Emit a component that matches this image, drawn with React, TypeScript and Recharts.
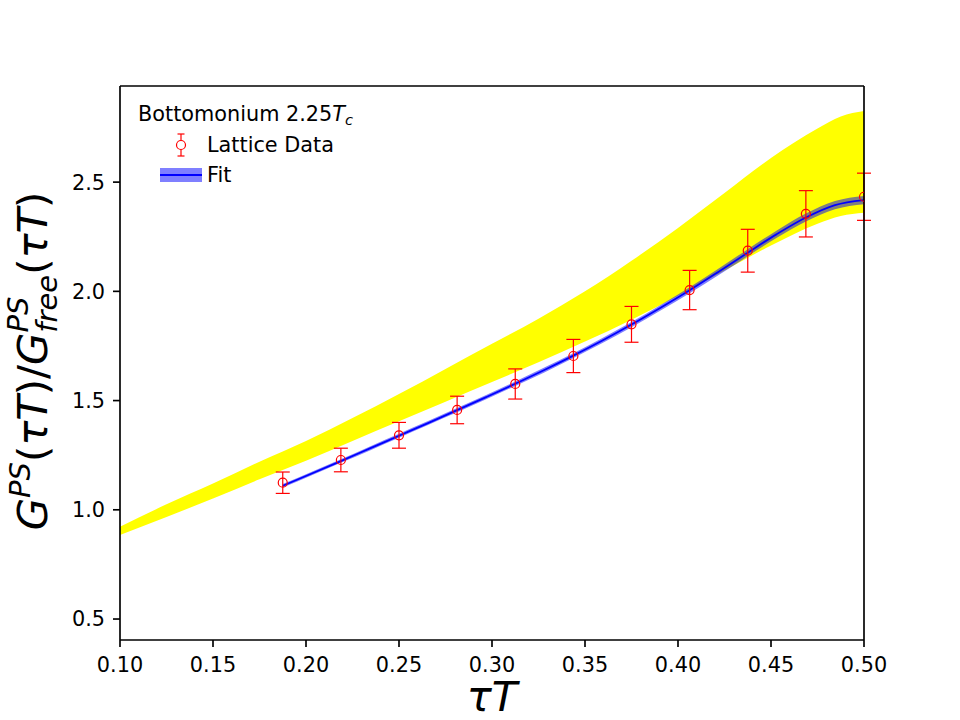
import React from 'react';
import { ComposedChart, Area, Line, Scatter, XAxis, YAxis, ErrorBar, ReferenceLine } from 'recharts';

// Lattice correlator ratio at tau*T = n/32
const latticeTau = [0.1875, 0.21875, 0.25, 0.28125, 0.3125, 0.34375, 0.375, 0.40625, 0.4375, 0.46875, 0.5];
const latticeRatio = [1.124, 1.228, 1.341, 1.457, 1.576, 1.704, 1.849, 2.006, 2.186, 2.355, 2.433];
const latticeError = [0.049, 0.054, 0.059, 0.063, 0.069, 0.076, 0.082, 0.09, 0.098, 0.106, 0.108];

// Fitted ratio (central curve and half-width of its uncertainty band)
const fitTau = [
  0.1875, 0.203125, 0.21875, 0.234375, 0.25, 0.265625, 0.28125, 0.296875, 0.3125, 0.328125, 0.34375,
  0.359375, 0.375, 0.390625, 0.40625, 0.421875, 0.4375, 0.453125, 0.46875, 0.484375, 0.5,
];
const fitCentral = [
  1.11, 1.166, 1.223, 1.281, 1.339, 1.397, 1.456, 1.516, 1.577, 1.64, 1.706,
  1.775, 1.848, 1.925, 2.005, 2.09, 2.177, 2.262, 2.338, 2.395, 2.418,
];
const fitHalfWidth = [
  0.008, 0.008, 0.008, 0.009, 0.009, 0.009, 0.01, 0.01, 0.01, 0.011, 0.011,
  0.012, 0.012, 0.013, 0.014, 0.015, 0.016, 0.017, 0.018, 0.019, 0.019,
];

// Model band (yellow)
const bandTau = [0.1, 0.125, 0.15, 0.175, 0.2, 0.225, 0.25, 0.275, 0.3, 0.325, 0.35, 0.375, 0.4, 0.425, 0.45, 0.475, 0.4875, 0.5];
const bandLower = [0.885, 0.967, 1.052, 1.14, 1.225, 1.315, 1.405, 1.495, 1.585, 1.675, 1.77, 1.87, 1.98, 2.095, 2.21, 2.31, 2.345, 2.36];
const bandUpper = [0.922, 1.025, 1.12, 1.22, 1.315, 1.42, 1.53, 1.645, 1.76, 1.875, 2.0, 2.14, 2.29, 2.45, 2.61, 2.745, 2.8, 2.825];

const xTicks = [0.1, 0.15, 0.2, 0.25, 0.3, 0.35, 0.4, 0.45, 0.5];
const yTicks = [0.5, 1.0, 1.5, 2.0, 2.5];
const xDomain: [number, number] = [0.1, 0.5];
const yDomain: [number, number] = [0.404, 2.94];

const bandRows = bandTau.map((x, i) => ({ x, range: [bandLower[i], bandUpper[i]] }));
const fitRows = fitTau.map((x, i) => ({
  x,
  y: fitCentral[i],
  range: [fitCentral[i] - fitHalfWidth[i], fitCentral[i] + fitHalfWidth[i]],
}));
const latticeRows = latticeTau.map((x, i) => ({ x, y: latticeRatio[i], err: latticeError[i] }));

const FONT = 'DejaVu Sans';
const TICK_FONT = 20.8;
const LABEL_FONT = 41.7;
const SPINE = 1.67;

const OpenCircle = (props: any) => {
  const { cx, cy } = props;
  if (cx == null || cy == null) return null;
  return <circle cx={cx} cy={cy} r={4.5} fill="none" stroke="#ff0000" strokeWidth={1.2} />;
};

const AxisLabels = () => (
  <g fontFamily={FONT} fill="#000">
    <text x={492} y={711} textAnchor="middle" fontSize={LABEL_FONT} fontStyle="italic">τT</text>
    <text transform="translate(47,361) rotate(-90)" x={0} y={0} textAnchor="middle" fontSize={LABEL_FONT}>
      <tspan fontStyle="italic">G</tspan>
      <tspan fontStyle="italic" fontSize={29} dy={-17}>PS</tspan>
      <tspan dy={17}>(</tspan>
      <tspan fontStyle="italic">τT</tspan>
      <tspan>)/</tspan>
      <tspan fontStyle="italic">G</tspan>
      <tspan fontStyle="italic" fontSize={29} dy={-19}>PS</tspan>
      <tspan fontStyle="italic" fontSize={29} dx={-36} dy={29}>free</tspan>
      <tspan dy={-10}>(</tspan>
      <tspan fontStyle="italic">τT</tspan>
      <tspan>)</tspan>
    </text>
  </g>
);

const LegendBox = () => (
  <g fontFamily={FONT} fontSize={TICK_FONT} fill="#000">
    <text x={138} y={121}>
      Bottomonium 2.25<tspan fontStyle="italic">T</tspan>
      <tspan fontStyle="italic" fontSize={14.6} dy={4}>c</tspan>
    </text>
    <line x1={181} x2={181} y1={134} y2={156} stroke="#ff0000" strokeWidth={1.2} />
    <line x1={177.5} x2={184.5} y1={134} y2={134} stroke="#ff0000" strokeWidth={1.2} />
    <line x1={177.5} x2={184.5} y1={156} y2={156} stroke="#ff0000" strokeWidth={1.2} />
    <circle cx={181} cy={145} r={4.5} fill="#fff" stroke="#ff0000" strokeWidth={1.2} />
    <text x={207} y={152}>Lattice Data</text>
    <rect x={160} y={168} width={42} height={14} fill="#0000ff" fillOpacity={0.5} />
    <line x1={160} x2={202} y1={175} y2={175} stroke="#0000ff" strokeWidth={1.8} />
    <text x={207} y={182}>Fit</text>
  </g>
);

export default function App() {
  return (
    <div style={{ position: 'absolute', left: 0, top: 0, background: '#fff' }}>
      <ComposedChart width={960} height={720} margin={{ top: 86, right: 96, bottom: 20, left: 60 }}>
        <Area
          data={bandRows}
          dataKey="range"
          type="monotone"
          stroke="none"
          fill="#ffff00"
          fillOpacity={1}
          isAnimationActive={false}
        />
        <Area
          data={fitRows}
          dataKey="range"
          type="monotone"
          stroke="none"
          fill="#0000ff"
          fillOpacity={0.5}
          isAnimationActive={false}
        />
        <Line
          data={fitRows}
          dataKey="y"
          type="monotone"
          stroke="#0000ff"
          strokeWidth={1.8}
          dot={false}
          isAnimationActive={false}
        />
        <Scatter data={latticeRows} dataKey="y" shape={OpenCircle} isAnimationActive={false}>
          <ErrorBar dataKey="err" direction="y" width={7} stroke="#ff0000" strokeWidth={1.2} />
        </Scatter>
        <XAxis
          dataKey="x"
          type="number"
          domain={xDomain}
          ticks={xTicks}
          allowDataOverflow
          tickFormatter={(v: number) => v.toFixed(2)}
          height={60}
          tickSize={7}
          tickMargin={10}
          tick={{ fill: '#000', fontSize: TICK_FONT, fontFamily: FONT }}
          tickLine={{ stroke: '#000', strokeWidth: SPINE }}
          axisLine={{ stroke: '#000', strokeWidth: SPINE }}
        />
        <YAxis
          dataKey="y"
          type="number"
          domain={yDomain}
          ticks={yTicks}
          allowDataOverflow
          tickFormatter={(v: number) => v.toFixed(1)}
          width={60}
          tickSize={7}
          tickMargin={8}
          tick={{ fill: '#000', fontSize: TICK_FONT, fontFamily: FONT }}
          tickLine={{ stroke: '#000', strokeWidth: SPINE }}
          axisLine={{ stroke: '#000', strokeWidth: SPINE }}
        />
        {/* top and right frame of the axes box */}
        <ReferenceLine y={yDomain[1]} stroke="#000" strokeWidth={SPINE} ifOverflow="visible" />
        <ReferenceLine x={xDomain[1]} stroke="#000" strokeWidth={SPINE} ifOverflow="visible" />
        <LegendBox />
        <AxisLabels />
      </ComposedChart>
    </div>
  );
}
